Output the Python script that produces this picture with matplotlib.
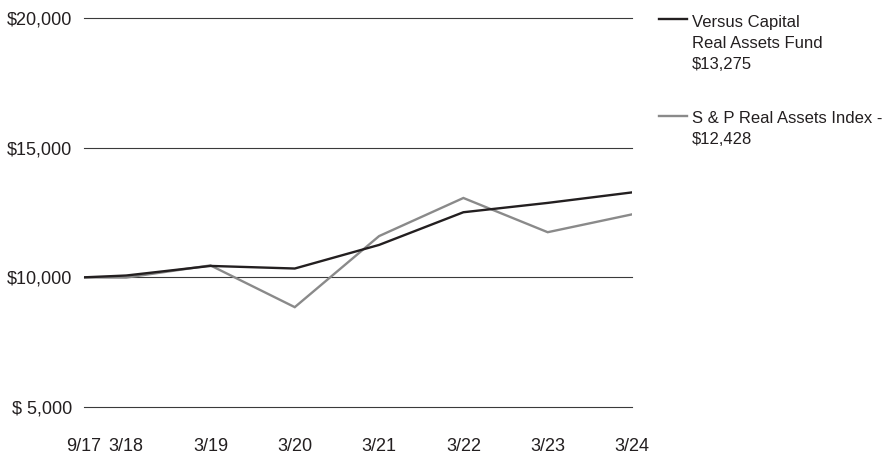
import matplotlib
matplotlib.use("Agg")
import matplotlib.pyplot as plt
from matplotlib.lines import Line2D

plt.rcParams['font.family'] = ['Liberation Sans', 'DejaVu Sans']

x_labels = ["9/17", "3/18", "3/19", "3/20", "3/21", "3/22", "3/23", "3/24"]
x_pos = [0, 0.5, 1.5, 2.5, 3.5, 4.5, 5.5, 6.5]
fund = [10000, 10070, 10440, 10340, 11250, 12510, 12870, 13275]
index = [10000, 9990, 10460, 8850, 11590, 13060, 11740, 12428]
fund_label = "Versus Capital\nReal Assets Fund\n$13,275"
index_label = "S & P Real Assets Index -\n$12,428"
y_ticks = [5000, 10000, 15000, 20000]
y_labels = ["$ 5,000", "$10,000", "$15,000", "$20,000"]

W, H = 892, 454
fig = plt.figure(figsize=(W / 100, H / 100), dpi=100)
left, right, top, bottom = 84, 632, 18, 407
ax = fig.add_axes([left / W, 1 - bottom / H, (right - left) / W, (bottom - top) / H])

black = "#231f20"
gray = "#8a8a8a"
fs = 13
fs_leg = 12

ax.set_xlim(0, 6.5)
ax.set_ylim(5000, 20000)
for yv in y_ticks:
    ax.axhline(yv, color="#3a3a3a", lw=0.8, zorder=1, clip_on=False)

ax.plot(x_pos, index, color=gray, lw=1.7, zorder=2, solid_joinstyle="miter")
ax.plot(x_pos, fund, color=black, lw=1.7, zorder=3, solid_joinstyle="miter")

for s in ax.spines.values():
    s.set_visible(False)
ax.set_yticks(y_ticks)
ax.set_yticklabels(y_labels, fontsize=fs, color=black)
ax.set_xticks(x_pos)
ax.set_xticklabels(x_labels, fontsize=fs, color=black)
ax.tick_params(axis="both", length=0)
ax.tick_params(axis="y", pad=8.5)
ax.tick_params(axis="x", pad=22)

# legend
def leg(y_line, y_top, color, text):
    fig.add_artist(Line2D([659 / W, 687 / W], [1 - y_line / H, 1 - y_line / H],
                          color=color, lw=1.7, transform=fig.transFigure))
    fig.text(692 / W, 1 - y_top / H, text, fontsize=fs_leg, color=black,
             ha="left", va="top", linespacing=1.52)

leg(19.3, 14.5, black, fund_label)
leg(115.7, 111, gray, index_label)

fig.savefig("out.png", dpi=100, facecolor="white")
